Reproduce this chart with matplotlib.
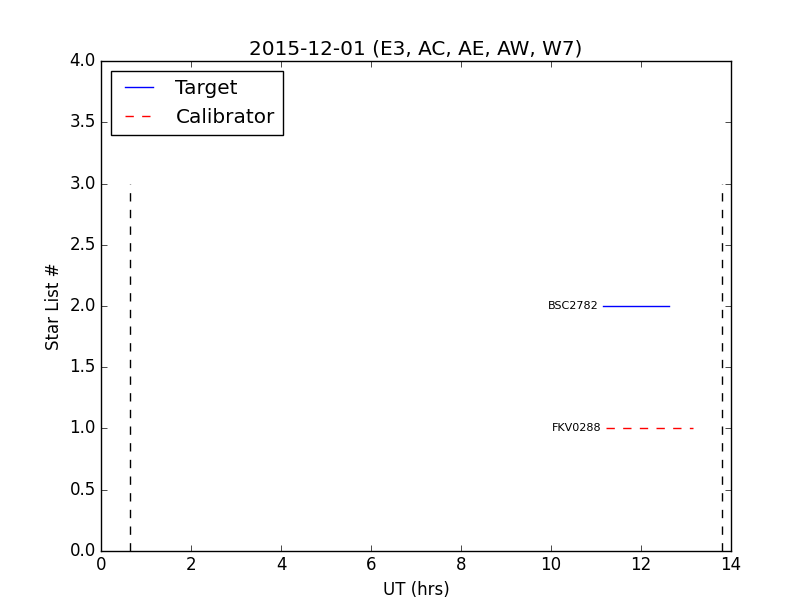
import matplotlib
matplotlib.use("Agg")
import matplotlib.pyplot as plt

plt.style.use("classic")

# --- Data ---
title = "2015-12-01 (E3, AC, AE, AW, W7)"
star_names = ["BSC2782", "FKV0288"]
star_nums = [2, 1]
star_kind = ["Target", "Calibrator"]
ut_start = [11.16, 11.22]
ut_end = [12.62, 13.16]
night_limits = [0.64, 13.8]  # UT (hrs)
limit_height = 3

styles = {"Target": "b-", "Calibrator": "r--"}

# --- Plot ---
fig, ax = plt.subplots(figsize=(8.12, 6.12), dpi=100)

seen = set()
for name, num, kind, t0, t1 in zip(star_names, star_nums, star_kind,
                                   ut_start, ut_end):
    label = kind if kind not in seen else None
    seen.add(kind)
    ax.plot([t0, t1], [num, num], styles[kind], label=label)
    ax.text(t0 - 0.1, num, name, fontsize=8, ha="right", va="center")

for t in night_limits:
    ax.plot([t, t], [0, limit_height], "k--")

ax.set_xlim(0, 14)
ax.set_ylim(0, 4)
ax.set_xlabel("UT (hrs)")
ax.set_ylabel("Star List #")
ax.set_title(title)
ax.legend(loc="upper left")

fig.savefig("out.png", dpi=100)
plt.close(fig)
